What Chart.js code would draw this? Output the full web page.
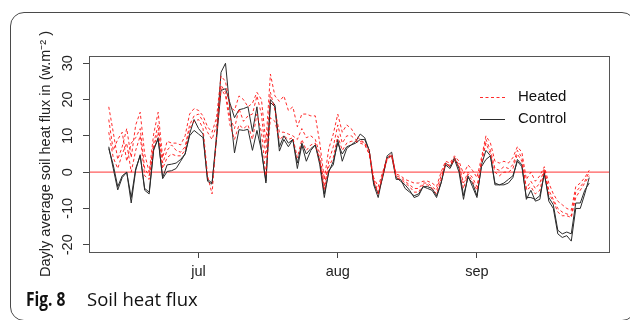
<!DOCTYPE html>
<html><head><meta charset="utf-8">
<script src="https://cdn.jsdelivr.net/npm/chart.js@4"></script>
<style>
html,body{margin:0;padding:0;background:#fff;width:630px;height:320px;overflow:hidden;}
#frame{position:absolute;left:10px;top:12px;width:626px;height:309px;border:1px solid #4a4a4a;border-radius:14px;box-sizing:border-box;}
#wrap{position:absolute;left:0;top:0;width:630px;height:320px;}
.cap{position:absolute;top:289px;font-family:'Open Sans';font-size:18.5px;line-height:20px;color:#111;white-space:nowrap;}
#capb{left:26px;font-weight:700;font-size:19px;transform-origin:left top;transform:scaleX(0.82);top:288.5px;}
#capt{left:87px;font-weight:400;}
</style></head>
<body>
<div id="frame"></div>
<div id="wrap"><canvas id="c" width="630" height="320"></canvas></div>
<div class="cap" id="capb">Fig. 8</div>
<div class="cap" id="capt">Soil heat flux</div>
<script>
// Daily values starting 11 June (day 0) to 26 Sept (day 107)
const CONTROL_A = [7,1,-4.9,-1.5,0,-8.5,0.5,4.8,-5,-6,6,9.5,-1.8,0.2,0.4,1,3,5,10.5,14.5,
 12,10.5,-2.5,-3.3,10,27.5,30,17,5.3,11.7,11.5,11.8,6,11.5,6,-3,19.2,18,5.8,9,
 7,9,1,7.5,3,6,7.5,2,-7,0.5,2,9,3,6.5,7.5,8.5,10.5,9.5,6,-3.5,
 -7,-1,4.5,5.5,-1.5,-2.5,-3.5,-5,-7,-6.5,-4,-4.5,-5,-7,-3,2,1,3.5,0,-7.5,
 -1,-4,-7,2,6,4.5,-3.5,-3.5,-3.5,-3,-1.5,3.5,2,-7.5,-5,-8,-7.5,0,-8,-10,
 -17,-18,-17.5,-19,-10,-10,-6,-1.5];
const CONTROL_B = [6.5,2,-4,-1,0,-7,1,4.5,-4.5,-5.5,6.5,9,-1.5,2,2.2,2.5,3.5,5,10,11.5,
 10.5,9.5,-2,-3,9,22.5,23,19,15,17.2,17.5,18,11.2,18,6,-2.5,20,18.5,7,10,
 8,9,2.5,8,5,6.5,7.5,3,-6,0,3,8,5,7,7.5,8,9,9,6,-3,
 -6,-1.5,4,4.5,-2,-2,-4.5,-5.5,-6.5,-6,-4,-4,-4.5,-6.5,-3,2.5,1.5,4,1,-6.5,
 -1.5,-3,-6.5,1.5,3.5,4.5,-3,-3.5,-3,-2,-1,3,1.5,-7,-7,-7.5,-6.5,-0.5,-7,-9,
 -16,-17,-16.5,-17,-8.5,-8.5,-5,-3];
const HEATED_A = [18,11,3.5,7,12,4,13,16.5,5,0,10.5,16.5,4,8.5,8,8,7.5,10,16,17.5,
 17,15.5,12.5,11,15,26.5,25,18,17,21,20,18,19,22,20,8,27,21,19.5,21,
 17,18,12.5,16,16,15.5,15.5,8,-2,6.5,10.5,16,11,13,12,10,9,8,5,-1.5,
 -4,0,4,4.5,-0.5,-1,-2,-2.5,-3,-3,-2.5,-2.5,-3,-4,0,3,2.5,4.5,3,-0.5,
 2,0.5,-1.5,4,10,8,3,2.5,3,2.5,4,7,5.5,-2,0,-2.5,-1,1.5,-3,-6,
 -8,-9,-10,-10.5,-4,-3,-1.5,0.5];
const HEATED_B = [14.5,6,9,11,3,8,9.5,12,1,-1,8,13,2.5,6,7.5,6,5.5,7,13,15.5,
 16,14,11,9,13,24,22,15,12,17.5,14,15.5,16,21,16,4,22,17,11,11,
 10.5,10,9,12,9.5,10,9,5,-4,3,7,13,8,10,10,9,8.5,8,6,-2,
 -5.5,-0.5,4,5,-1,-1.5,-2.5,-3.5,-4.5,-4.5,-3,-3,-4,-5,-1,2,2,4,2,-3,
 0,-1.5,-4,3,9,6,1,0.5,1.5,1,2,6,4,-4.5,-2.5,-4.5,-3,1,-5,-7.5,
 -10,-11,-11.5,-12,-5.5,-4,-2.5,0];
const HEATED_C = [11,4,1,5,8,0,6,10,-1,-2,7,11,1,4,5,4.5,4.5,6,12,14,
 14.5,12,-1,-6,10,23,21,13,9,13,12,13,9,16,11,-1,15,14,9,10,
 9,9.5,4,9,6,7.5,8,3,-5,1.5,4,10,6,8,8.5,8.5,8,7.5,5,-2.5,
 -6,-1,3.5,4.5,-1.5,-2,-3,-4,-5.5,-5.5,-3.5,-3.5,-4.5,-6,-2,2.5,1.5,3.5,1.5,-4.5,
 -0.5,-2.5,-5,2.5,8,5,0,-1,0,0,1,5,3,-5,-4,-6,-5,0.5,-6,-8,
 -11,-12,-12,-12.5,-7,-5,-3,-1];
const TICK_DAYS = [20, 51, 82];
const TICK_LABELS = ['jul', 'aug', 'sep'];
const Y_TICKS = [-20, -10, 0, 10, 20, 30];
const ZERO_LINE = 0;
const LEGEND_LABELS = ['Heated', 'Control'];

const toPts = arr => arr.map((v, i) => ({x: i, y: v}));
const RED = 'rgba(255,20,20,0.9)';
const BLK = '#2b2b2b';
const FONT = '"Liberation Sans", Arial, sans-serif';
const redDs = arr => ({data: toPts(arr), borderColor: RED, borderWidth: 1, borderDash: [3, 2.5], pointRadius: 0, tension: 0, fill: false});
const blkDs = arr => ({data: toPts(arr), borderColor: BLK, borderWidth: 1, pointRadius: 0, tension: 0, fill: false});

const X_MIN = -4.4, X_MAX = 111.4;

const framePlugin = {
  id: 'framePlugin',
  beforeDatasetsDraw(chart) {
    const {ctx, chartArea: a, scales: {y}} = chart;
    const py = y.getPixelForValue(ZERO_LINE);
    ctx.save();
    ctx.strokeStyle = '#ff5c5c';
    ctx.lineWidth = 1.3;
    ctx.beginPath(); ctx.moveTo(a.left, py); ctx.lineTo(a.right, py); ctx.stroke();
    ctx.restore();
  },
  afterDraw(chart) {
    const {ctx, chartArea: a, scales: {y}} = chart;
    ctx.save();
    ctx.strokeStyle = '#555';
    ctx.lineWidth = 1;
    ctx.strokeRect(Math.round(a.left) + 0.5, Math.round(a.top) + 0.5, Math.round(a.right - a.left), Math.round(a.bottom - a.top));
    // y tick labels (rotated, R-style)
    ctx.fillStyle = '#222';
    ctx.font = '14.5px ' + FONT;
    ctx.textAlign = 'center';
    ctx.textBaseline = 'middle';
    Y_TICKS.forEach(t => {
      const py = y.getPixelForValue(t);
      ctx.save();
      ctx.translate(a.left - 21, py);
      ctx.rotate(-Math.PI / 2);
      ctx.fillText(String(t), 0, 0);
      ctx.restore();
    });
    // legend
    const lx = a.right - 129, tx = a.right - 91;
    const rows = [a.top + 41, a.top + 63];
    ctx.font = '15px ' + FONT;
    ctx.textAlign = 'left';
    ctx.lineWidth = 1;
    ctx.strokeStyle = RED; ctx.setLineDash([3, 2.5]);
    ctx.beginPath(); ctx.moveTo(lx, rows[0] + 0.5); ctx.lineTo(lx + 25, rows[0] + 0.5); ctx.stroke();
    ctx.setLineDash([]);
    ctx.strokeStyle = BLK;
    ctx.beginPath(); ctx.moveTo(lx, rows[1] + 0.5); ctx.lineTo(lx + 25, rows[1] + 0.5); ctx.stroke();
    ctx.fillStyle = '#111';
    ctx.fillText(LEGEND_LABELS[0], tx, rows[0]);
    ctx.fillText(LEGEND_LABELS[1], tx, rows[1]);
    ctx.restore();
  }
};

new Chart(document.getElementById('c'), {
  type: 'line',
  data: {datasets: [redDs(HEATED_A), redDs(HEATED_B), redDs(HEATED_C), blkDs(CONTROL_A), blkDs(CONTROL_B)]},
  options: {
    responsive: false, animation: false,
    layout: {padding: {left: 0, right: 21, top: 56, bottom: 0}},
    plugins: {legend: {display: false}, tooltip: {enabled: false}},
    scales: {
      x: {
        type: 'linear', min: X_MIN, max: X_MAX,
        afterBuildTicks: s => { s.ticks = TICK_DAYS.map(v => ({value: v})); },
        afterFit: s => { s.height = 68; },
        grid: {drawOnChartArea: false, drawTicks: true, tickLength: 6, color: '#444'},
        border: {display: false},
        ticks: {
          font: {family: FONT, size: 14.5}, color: '#222', padding: 5,
          maxRotation: 0, autoSkip: false,
          callback: v => { const i = TICK_DAYS.indexOf(v); return i >= 0 ? TICK_LABELS[i] : ''; }
        }
      },
      y: {
        min: -22, max: 32,
        afterBuildTicks: s => { s.ticks = Y_TICKS.map(v => ({value: v})); },
        afterFit: s => { s.width = 89; },
        grid: {drawOnChartArea: false, drawTicks: true, tickLength: 6, color: '#444'},
        border: {display: false},
        ticks: {display: false},
        title: {
          display: true, text: 'Dayly average soil heat flux in (w.m\u207B\u00B2 )',
          font: {family: FONT, size: 14.5}, color: '#222',
          padding: {top: 37, bottom: 0}
        }
      }
    }
  },
  plugins: [framePlugin]
});
</script>
</body></html>
